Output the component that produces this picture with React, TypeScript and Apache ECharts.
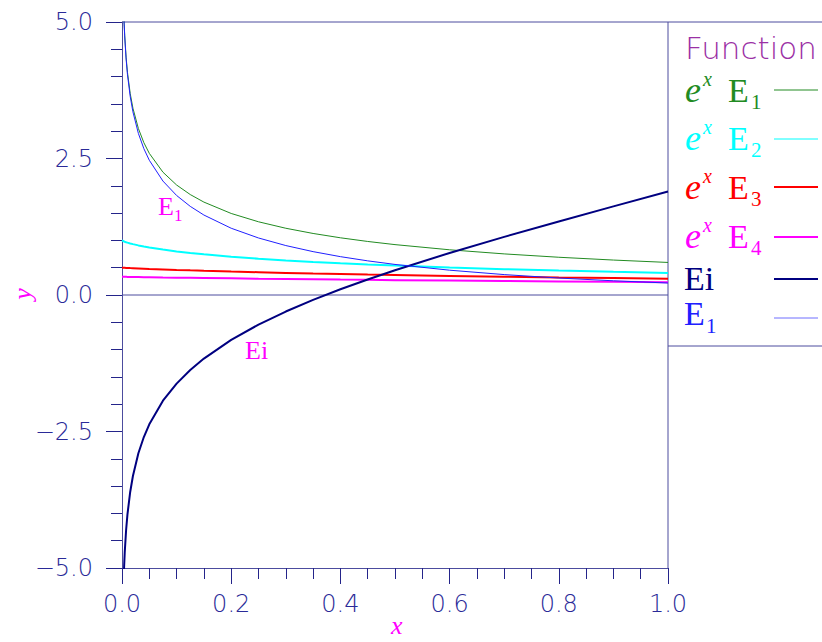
import React, { useEffect, useRef } from "react";
import * as echarts from "echarts";

// Sample abscissae (x = 0 is undefined for E1 and Ei)
const xs = [0, 0.003, 0.004, 0.005, 0.0075, 0.01, 0.015, 0.02, 0.03, 0.04, 0.05, 0.075, 0.1, 0.125, 0.15, 0.2, 0.25, 0.3, 0.35, 0.4, 0.45, 0.5, 0.6, 0.7, 0.8, 0.9, 1.0];

const expE1 = [null, 5.2507, 4.9681, 4.7498, 4.3557, 4.0785, 3.6924, 3.4225, 3.0492, 2.7907, 2.5944, 2.2492, 2.0146, 1.8396, 1.7015, 1.4934, 1.3409, 1.2225, 1.1271, 1.0478, 0.9807, 0.9229, 0.8279, 0.7527, 0.6913, 0.6399, 0.5963];
const expE2 = [1, 0.9843, 0.9801, 0.9762, 0.9673, 0.9592, 0.9446, 0.9316, 0.9085, 0.8884, 0.8703, 0.8313, 0.7985, 0.77, 0.7448, 0.7013, 0.6648, 0.6332, 0.6055, 0.5809, 0.5587, 0.5385, 0.5032, 0.4731, 0.447, 0.4241, 0.4037];
const expE3 = [0.5, 0.4985, 0.498, 0.4976, 0.4964, 0.4952, 0.4929, 0.4907, 0.4864, 0.4822, 0.4782, 0.4688, 0.4601, 0.4519, 0.4441, 0.4299, 0.4169, 0.405, 0.394, 0.3838, 0.3743, 0.3654, 0.349, 0.3344, 0.3212, 0.3092, 0.2982];
const expE4 = [0.3333, 0.3328, 0.3327, 0.3325, 0.3321, 0.3317, 0.3309, 0.3301, 0.3285, 0.3269, 0.3254, 0.3216, 0.318, 0.3145, 0.3111, 0.3047, 0.2986, 0.2928, 0.2874, 0.2822, 0.2772, 0.2724, 0.2635, 0.2553, 0.2477, 0.2406, 0.2339];
const ei = [null, -5.2289, -4.9402, -4.7161, -4.3081, -4.0179, -3.6074, -3.3147, -2.8991, -2.6013, -2.3679, -1.9366, -1.6228, -1.3732, -1.1641, -0.8218, -0.5425, -0.3027, -0.0894, 0.1048, 0.2849, 0.4542, 0.7699, 1.0649, 1.3474, 1.6228, 1.8951];
const e1 = [null, 5.2349, 4.9482, 4.7261, 4.3231, 4.0379, 3.6374, 3.3547, 2.9591, 2.6813, 2.4679, 2.0866, 1.8229, 1.6234, 1.4645, 1.2227, 1.0443, 0.9057, 0.7942, 0.7024, 0.6253, 0.5598, 0.4544, 0.3738, 0.3106, 0.2602, 0.2194];

// Horizontal reference line at y = 0
const zeroLineX = [0, 1];
const zeroLineY = [0, 0];

const seriesDefs = [
  { name: "exp E1", values: expE1, color: "#228b22", width: 1 },
  { name: "exp E2", values: expE2, color: "#00ffff", width: 2 },
  { name: "exp E3", values: expE3, color: "#ff0000", width: 2 },
  { name: "exp E4", values: expE4, color: "#ff00ff", width: 2 },
  { name: "Ei", values: ei, color: "#000080", width: 2 },
  { name: "E1", values: e1, color: "#2020ff", width: 1 },
];

const GRID = { left: 122, top: 22, width: 546, height: 546 };
const AXIS_LINE = "#4c4c9e";
const TICK = "#24248a";
const LABEL = "#2a2a98";
const SERIF = "'Liberation Serif', 'DejaVu Serif', serif";

function txt(text: string, left: number, baseline: number, size: number, family: string, color: string, italic = false, weight = "normal") {
  return {
    type: "text",
    silent: true,
    style: {
      text,
      x: left,
      y: baseline - 0.34 * size,
      font: `${italic ? "italic " : ""}${weight} ${size}px ${family}`,
      fill: color,
      textVerticalAlign: "middle",
    },
  };
}

function hline(x1: number, x2: number, y: number, color: string, width: number) {
  return { type: "line", silent: true, shape: { x1, y1: y, x2, y2: y }, style: { stroke: color, lineWidth: width } };
}

function buildLegend() {
  const right = GRID.left + GRID.width;
  const els: any[] = [];
  els.push(txt("Function", 685, 59, 31, "'DejaVu Sans', sans-serif", "#9b30a5", false, "200"));
  const expRows = [
    { sub: "1", color: seriesDefs[0].color, lineY: 90, base: 102, w: 1 },
    { sub: "2", color: seriesDefs[1].color, lineY: 139, base: 150, w: 1 },
    { sub: "3", color: seriesDefs[2].color, lineY: 187, base: 199, w: 2 },
    { sub: "4", color: seriesDefs[3].color, lineY: 237, base: 248, w: 2 },
  ];
  expRows.forEach((r) => {
    els.push(txt("e", 685, r.base, 36, SERIF, r.color, true));
    els.push(txt("x", 703, r.base - 16, 20, SERIF, r.color, true));
    els.push(txt("E", 728, r.base, 34, SERIF, r.color));
    els.push(txt(r.sub, 751, r.base + 7, 21, SERIF, r.color));
    els.push(hline(right + 106, right + 150, r.lineY, r.color, r.w));
  });
  els.push(txt("Ei", 684, 290, 34, SERIF, seriesDefs[4].color));
  els.push(hline(right + 106, right + 150, 279, seriesDefs[4].color, 2));
  els.push(txt("E", 684, 325, 34, SERIF, seriesDefs[5].color));
  els.push(txt("1", 706, 333, 21, SERIF, seriesDefs[5].color));
  els.push(hline(right + 106, right + 150, 318, "#6f6fff", 1));
  return els;
}

export default function App() {
  const ref = useRef<HTMLDivElement>(null);
  useEffect(() => {
    if (!ref.current) return;
    const chart = echarts.init(ref.current, null, { renderer: "svg" });
    const right = GRID.left + GRID.width;
    const bottom = GRID.top + GRID.height;

    const series: any[] = [
      {
        name: "zero",
        type: "line",
        data: zeroLineX.map((x, k) => [x, zeroLineY[k]]),
        showSymbol: false,
        silent: true,
        lineStyle: { color: AXIS_LINE, width: 1 },
        itemStyle: { color: AXIS_LINE },
        z: 1,
      },
      ...seriesDefs.map((s, i) => ({
        name: s.name,
        type: "line",
        data: xs.map((x, k) => [x, s.values[k]]).filter((p) => p[1] !== null),
        showSymbol: false,
        smooth: false,
        clip: true,
        lineStyle: { color: s.color, width: s.width },
        itemStyle: { color: s.color },
        z: 3 + i,
      })),
    ];

    chart.setOption({
      animation: false,
      backgroundColor: "#ffffff",
      grid: GRID,
      xAxis: {
        type: "value",
        min: 0,
        max: 1,
        interval: 0.2,
        axisLine: { show: true, onZero: false, lineStyle: { color: AXIS_LINE, width: 1 } },
        axisTick: { show: true, length: 16, lineStyle: { color: TICK, width: 1 } },
        minorTick: { show: true, splitNumber: 4, length: 11, lineStyle: { color: TICK, width: 1 } },
        splitLine: { show: false },
        axisLabel: {
          margin: 24,
          color: LABEL,
          fontFamily: "'DejaVu Sans', sans-serif",
          fontWeight: 200,
          fontSize: 24,
          formatter: (v: number) => v.toFixed(1),
        },
      },
      yAxis: {
        type: "value",
        min: -5,
        max: 5,
        interval: 2.5,
        axisLine: { show: true, onZero: false, lineStyle: { color: AXIS_LINE, width: 1 } },
        axisTick: { show: true, length: 16, lineStyle: { color: TICK, width: 1 } },
        minorTick: { show: true, splitNumber: 5, length: 11, lineStyle: { color: TICK, width: 1 } },
        splitLine: { show: false },
        axisLabel: {
          margin: 29,
          color: LABEL,
          fontFamily: "'DejaVu Sans', sans-serif",
          fontWeight: 200,
          fontSize: 24,
          formatter: (v: number) => (v < 0 ? "\u2212" : "") + Math.abs(v).toFixed(1),
        },
      },
      series,
      graphic: [
        hline(GRID.left, 822, GRID.top, AXIS_LINE, 1),
        { type: "line", silent: true, shape: { x1: right, y1: GRID.top, x2: right, y2: bottom }, style: { stroke: AXIS_LINE, lineWidth: 1 } },
        hline(right, 822, 346, AXIS_LINE, 1),
        ...buildLegend(),
        // curve annotations
        txt("E", 158, 215, 26, SERIF, "#ff00ff"),
        txt("1", 174, 221, 17, SERIF, "#ff00ff"),
        txt("Ei", 245, 359, 26, SERIF, "#ff00ff"),
        // axis titles
        txt("x", 391, 634, 26, SERIF, "#ff00ff", true),
        {
          type: "text",
          silent: true,
          x: 22,
          y: 294,
          rotation: Math.PI / 2,
          style: {
            text: "y",
            x: 0,
            y: 0,
            font: `italic normal 26px ${SERIF}`,
            fill: "#ff00ff",
            textAlign: "center",
            textVerticalAlign: "middle",
          },
        },
      ],
    });
    return () => chart.dispose();
  }, []);
  return <div ref={ref} style={{ position: "fixed", left: 0, top: 0, width: 822, height: 642 }} />;
}
